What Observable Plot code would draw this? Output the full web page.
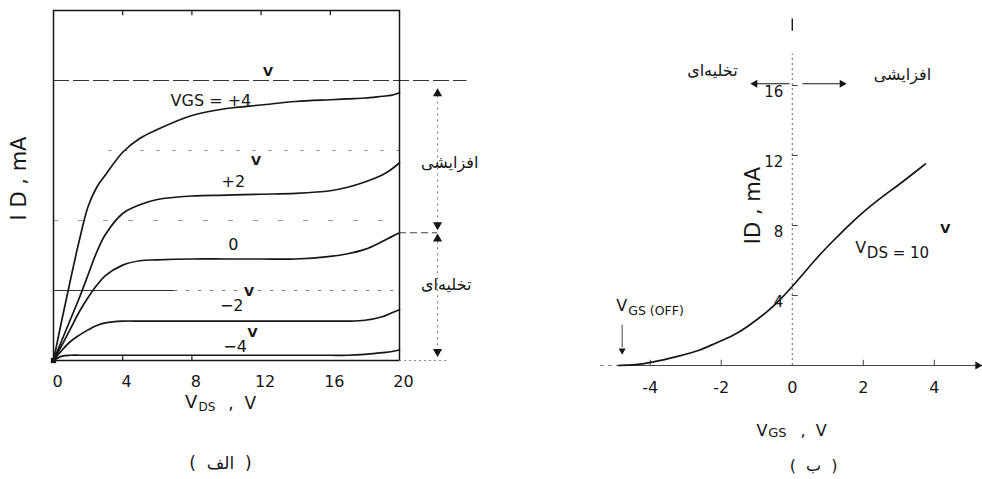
<!DOCTYPE html>
<html>
<head>
<meta charset="utf-8">
<script src="https://cdn.jsdelivr.net/npm/d3@7"></script>
<script src="https://cdn.jsdelivr.net/npm/@observablehq/plot@0.6"></script>
<style>
  html, body { margin: 0; padding: 0; background: #fff; }
  #fig { position: relative; width: 982px; height: 479px; overflow: hidden; }
  #fig svg { position: absolute; top: 0; overflow: visible; }
</style>
</head>
<body>
<div id="fig"></div>
<script>
// ---- Drain characteristics: I_D (mA) against V_DS (V), one curve per V_GS ----
const vdsGrid      = [0, 0.5, 1, 1.5, 2, 2.5, 3, 4, 5, 6, 8, 10, 12, 14, 16, 17, 18, 19, 19.5, 20];
const idVgsPlus4   = [0, 2.4, 4.7, 6.9, 8.8, 9.9, 10.6, 11.9, 12.7, 13.2, 14.0, 14.4, 14.6, 14.8, 14.9, 14.95, 15.0, 15.1, 15.15, 15.3];
const idVgsPlus2   = [0, 1.2, 2.4, 3.6, 4.9, 6.2, 7.2, 8.4, 8.9, 9.2, 9.4, 9.45, 9.5, 9.55, 9.7, 9.9, 10.2, 10.6, 10.9, 11.3];
const idVgsZero    = [0, 0.9, 1.85, 2.8, 3.6, 4.3, 4.85, 5.45, 5.7, 5.75, 5.8, 5.8, 5.8, 5.8, 5.95, 6.1, 6.35, 6.8, 7.05, 7.3];
const idVgsMinus2  = [0, 0.6, 1.1, 1.45, 1.75, 2.0, 2.15, 2.25, 2.25, 2.25, 2.25, 2.25, 2.25, 2.25, 2.25, 2.25, 2.3, 2.5, 2.7, 2.9];
const idVgsMinus4  = [0, 0.25, 0.3, 0.3, 0.3, 0.3, 0.3, 0.3, 0.3, 0.3, 0.3, 0.3, 0.3, 0.3, 0.3, 0.3, 0.35, 0.45, 0.5, 0.6];
const vdsTicks     = [0, 4, 8, 12, 16, 20];
const idGridLevels = [4, 8, 12, 16];

// ---- Transfer characteristic at V_DS = 10 V ----
const vgsTransfer  = [-4.9, -4.5, -4.0, -3.15, -2.6, -2.2, -1.65, -1.27, -0.71, -0.34, 0.13, 0.7, 1.16, 1.63, 2.1, 2.57, 3.04, 3.75];
const idTransfer   = [0, 0.02, 0.15, 0.55, 0.86, 1.25, 1.71, 2.2, 3.05, 3.75, 4.8, 6.19, 7.14, 8.1, 8.95, 9.71, 10.38, 11.52];
const vgsTicks     = [-4, -2, 0, 2, 4];
const vgsTickText  = ["-4", "-2", "0", "2", "4"];
const idTicks      = [4, 8, 12, 16];

const ink = "#161616";
const font = "'DejaVu Sans', 'Noto Sans', sans-serif";
const fig = document.getElementById("fig");

const curve = (ys) => Plot.line(ys, {x: vdsGrid, y: ys, curve: "catmull-rom", stroke: ink, strokeWidth: 1.7});
const label = (s, x, y, o = {}) => Plot.text([s], {x, y, text: d => d, fill: ink, fontSize: 16, ...o});
const tri = (x, y, rotate, r = 3.4) => Plot.dot([0], {x, y, symbol: "triangle", rotate, r, fill: ink, stroke: "none"});

// ---------- left panel ----------
const left = Plot.plot({
  width: 490, height: 479,
  marginLeft: 53, marginRight: 91, marginTop: 10, marginBottom: 119,
  x: {domain: [0, 20], axis: null},
  y: {domain: [0, 20], axis: null},
  style: {fontFamily: font, background: "transparent", overflow: "visible"},
  marks: [
    // horizontal guide lines
    Plot.ruleY([16], {x1: 0, x2: 23.9, stroke: "#333", strokeWidth: 1.1, strokeDasharray: "16,4"}),
    Plot.ruleY([12], {x1: 3.2, x2: 20, stroke: "#888", strokeWidth: 1, strokeDasharray: "3,13"}),
    Plot.ruleY([8], {x1: 0, x2: 20, stroke: "#999", strokeWidth: 1, strokeDasharray: "5,20"}),
    Plot.ruleY([4], {x1: 0, x2: 7, stroke: "#333", strokeWidth: 1}),
    Plot.ruleY([4], {x1: 7, x2: 20, stroke: "#777", strokeWidth: 1, strokeDasharray: "3,9"}),
    // small tick marks on the frame
    Plot.ruleX(idGridLevels, {y1: 20, y2: 19.7, stroke: ink, strokeWidth: 1.2}),
    Plot.ruleX([4, 8], {y1: 0, y2: 0.3, stroke: ink, strokeWidth: 1.2}),
    Plot.frame({stroke: ink, strokeWidth: 1.5}),
    // drain curves
    curve(idVgsPlus4),
    curve(idVgsPlus2),
    curve(idVgsZero),
    curve(idVgsMinus2),
    curve(idVgsMinus4),
    Plot.dot([0], {x: 0, y: 0, symbol: "square", r: 3, fill: ink}),
    // curve labels
    label("VGS = +4", 9.1, 14.85),
    label("V", 12.4, 16.5, {fontSize: 13, fontWeight: "bold"}),
    label("+2", 10.4, 10.2),
    label("V", 11.7, 11.4, {fontSize: 13, fontWeight: "bold"}),
    label("0", 10.4, 6.6),
    label("−2", 10.3, 3.15),
    label("V", 11.3, 3.9, {fontSize: 13, fontWeight: "bold"}),
    label("−4", 10.5, 0.8),
    label("V", 11.5, 1.6, {fontSize: 13, fontWeight: "bold"}),
    // axis tick labels and titles
    Plot.text(vdsTicks, {x: d => d, y: 0, dy: 21, dx: 4, text: d => String(d), fill: ink, fontSize: 16}),
    label("V", 8.32, 0, {dy: 42, fontSize: 18, textAnchor: "end"}),
    label("DS", 8.38, 0, {dy: 47, fontSize: 12, textAnchor: "start"}),
    label(",  V", 10.1, 0, {dy: 43, fontSize: 17, textAnchor: "start"}),
    label("I D , mA", -1.97, 10.4, {rotate: -90, fontSize: 21}),
    label("(  الف  )", 9.65, 0, {dy: 103, fontSize: 17}),
    // region markers on the right side
    Plot.ruleY([7.3], {x1: 20, x2: 22.2, stroke: "#444", strokeDasharray: "7,4"}),
    Plot.ruleY([0], {x1: 20, x2: 22.9, stroke: "#888", strokeDasharray: "2,3"}),
    Plot.ruleX([22.2], {y1: 7.8, y2: 15.2, stroke: "#777", strokeDasharray: "2,4"}),
    Plot.ruleX([22.2], {y1: 0.5, y2: 6.9, stroke: "#777", strokeDasharray: "2,4"}),
    tri(22.2, 15.25, 0),
    tri(22.2, 7.75, 180),
    tri(22.2, 6.95, 0),
    tri(22.2, 0.5, 180),
    label("افزایشی", 22.9, 11.3),
    label("تخلیه‌ای", 22.7, 4.3)
  ]
});
left.style.left = "0px";
fig.appendChild(left);

// ---------- right panel ----------
const right = Plot.plot({
  width: 482, height: 479,
  marginLeft: 100, marginRight: 2, marginTop: 15, marginBottom: 114,
  x: {domain: [-5.4, 5.3], axis: null},
  y: {domain: [0, 20], axis: null},
  style: {fontFamily: font, background: "transparent", overflow: "visible"},
  marks: [
    // axes
    Plot.ruleY([0], {x1: -5.4, x2: -4.9, stroke: "#888", strokeDasharray: "4,4"}),
    Plot.ruleY([0], {x1: -4.9, x2: 5.2, stroke: "#444", strokeWidth: 1.1}),
    tri(5.22, 0, 90, 3),
    Plot.ruleX([0], {y1: 0, y2: 17.8, stroke: "#666", strokeDasharray: "2,3"}),
    Plot.ruleX([0], {y1: 19.1, y2: 19.8, stroke: ink, strokeWidth: 1.4}),
    Plot.ruleY(idTicks, {x1: 0, x2: 0.17, stroke: "#444"}),
    Plot.text(idTicks, {x: 0, y: d => d, dx: -9, dy: 7, textAnchor: "end", text: d => String(d), fill: ink, fontSize: 15}),
    Plot.ruleX([-4, -2, 2, 4], {y1: 0, y2: 0.3, stroke: "#444"}),
    Plot.text(vgsTicks, {x: d => d, y: 0, dy: 22, text: (d, i) => vgsTickText[i], fill: ink, fontSize: 16}),
    // transfer curve
    Plot.line(idTransfer, {x: vgsTransfer, y: idTransfer, curve: "basis", stroke: ink, strokeWidth: 1.7}),
    // annotations
    label("V", -4.65, 3.4, {fontSize: 16, textAnchor: "end"}),
    label("GS (OFF)", -4.62, 3.1, {fontSize: 12.5, textAnchor: "start"}),
    Plot.ruleX([-4.79], {y1: 1.0, y2: 2.3, stroke: "#444"}),
    tri(-4.79, 0.85, 180, 2.6),
    label("V", 2.08, 6.7, {fontSize: 16, textAnchor: "end"}),
    label("DS = 10", 2.1, 6.4, {fontSize: 15, textAnchor: "start"}),
    label("V", 4.31, 7.8, {fontSize: 13, fontWeight: "bold"}),
    label("ID , mA", -1.1, 9.14, {rotate: -90, fontSize: 21}),
    label("V", -0.7, 0, {dy: 65, fontSize: 16, textAnchor: "end"}),
    label("GS", -0.68, 0, {dy: 67, fontSize: 13, textAnchor: "start"}),
    label(",  V", 0.23, 0, {dy: 65, fontSize: 16, textAnchor: "start"}),
    label("(  ب  )", 0.6, 0, {dy: 100, fontSize: 16}),
    // depletion / enhancement direction arrows
    Plot.ruleY([16.1], {x1: -1.0, x2: -0.06, stroke: ink}),
    tri(-1.05, 16.1, -90, 3),
    Plot.ruleY([16.1], {x1: 0.3, x2: 1.35, stroke: ink}),
    tri(1.4, 16.1, 90, 3),
    label("تخلیه‌ای", -2.25, 16.86),
    label("افزایشی", 3.1, 16.6)
  ]
});
right.style.left = "500px";
fig.appendChild(right);
</script>
</body>
</html>
